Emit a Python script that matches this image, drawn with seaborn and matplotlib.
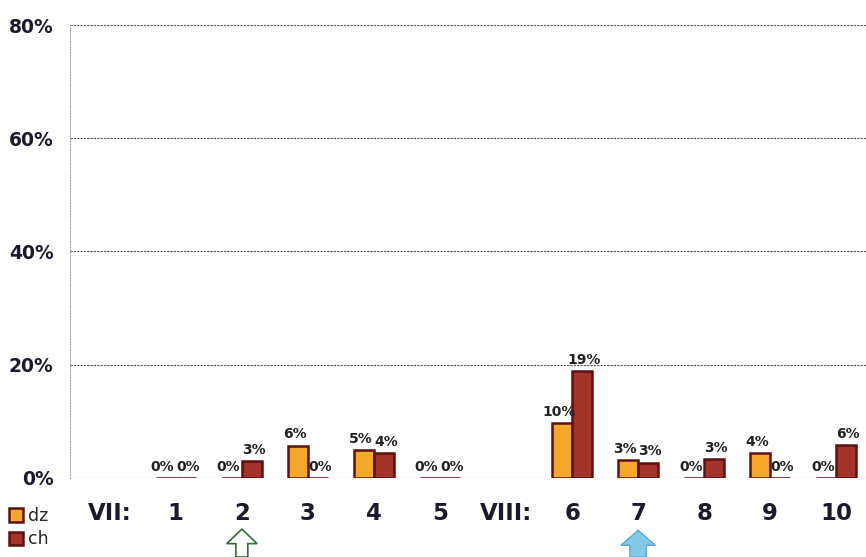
import numpy as np
import pandas as pd
import matplotlib
matplotlib.use('Agg')
import matplotlib.pyplot as plt
import matplotlib.transforms as mtransforms
from matplotlib.patches import FancyArrow
import seaborn as sns

# categories along x (month markers are empty slots)
CATS = ['VII:', '1', '2', '3', '4', '5', 'VIII:', '6', '7', '8', '9', '10']
DZ = [np.nan, 0, 0, 5.7, 4.9, 0, np.nan, 9.7, 3.2, 0, 4.4, 0]
CH = [np.nan, 0, 3.0, 0, 4.4, 0, np.nan, 18.9, 2.7, 3.3, 0, 5.8]
SERIES = ['dz', 'ch']
Y_TICKS = [0, 20, 40, 60, 80]

COLORS = {'dz': '#F4A82A', 'ch': '#A53329'}
EDGE = '#5A1212'

df = pd.DataFrame({
    'cat': CATS * 2,
    'series': ['dz'] * len(CATS) + ['ch'] * len(CATS),
    'value': DZ + CH,
})

sns.set_style('white')
plt.rcParams['font.family'] = ['DejaVu Sans']

fig = plt.figure(figsize=(8.66, 5.57), dpi=100)
ax = fig.add_axes([0.081, 0.142, 0.919, 0.813])

sns.barplot(data=df, x='cat', y='value', hue='series', order=CATS,
            hue_order=SERIES, palette=COLORS, saturation=1, width=0.6,
            ax=ax, edgecolor=EDGE, linewidth=1.8, errorbar=None, zorder=3)

# percent labels above the bars, nudged apart a little
for cont, dx in zip(ax.containers, [-2.5, 1.5]):
    labs = []
    for b in cont:
        h = b.get_height()
        labs.append('' if np.isnan(h) else f'{h:.0f}%')
    texts = ax.bar_label(cont, labels=labs, padding=3, fontsize=10,
                         fontweight='bold', color='#222222')
    for t in texts:
        t.xyann = (dx, 3)

ax.set_xlim(-0.6, 11.45)
ax.set_ylim(0, 80)
ax.set_yticks(Y_TICKS)
ax.set_yticklabels([f'{v}%' for v in Y_TICKS], fontsize=13.5,
                   fontweight='bold', color='#1a1a2a')
ax.tick_params(axis='y', length=0, pad=12)
ax.tick_params(axis='x', which='major', length=0, pad=17,
               labelsize=16.5)
for t in ax.get_xticklabels():
    t.set_fontweight('bold')
    t.set_color('#1a1a2a')
ax.set_xticks(np.arange(-0.5, 11.5, 1), minor=True)
ax.tick_params(axis='x', which='minor', length=7, width=0.8,
               color='#777777', direction='out')
ax.set_xlabel('')
ax.set_ylabel('')

ax.yaxis.grid(True, linestyle=(0, (2, 1)), color='#555555', lw=0.8, zorder=0)
ax.set_axisbelow(True)
for s in ['top', 'right', 'bottom']:
    ax.spines[s].set_visible(False)
ax.spines['left'].set_linestyle((0, (1, 1.5)))
ax.spines['left'].set_color('#aaaaaa')
ax.spines['left'].set_linewidth(0.8)

# legend bottom left
handles, labels = ax.get_legend_handles_labels()
ax.legend(handles, labels, loc='lower left', bbox_to_anchor=(0.0, 0.0),
          bbox_transform=fig.transFigure, frameon=False, fontsize=12.5,
          handlelength=0.8, handleheight=0.8, handletextpad=0.3,
          labelspacing=0.3, borderaxespad=0.3, borderpad=0.2)

# arrows under the axis
trans = mtransforms.blended_transform_factory(ax.transData, fig.transFigure)
a1 = FancyArrow(2, 0.0, 0, 0.05, width=0.18, head_width=0.46,
                head_length=0.026, length_includes_head=True,
                transform=trans, facecolor='white', edgecolor='#2E6B3A',
                lw=1.2, clip_on=False)
a2 = FancyArrow(8, 0.0, 0, 0.048, width=0.25, head_width=0.52,
                head_length=0.027, length_includes_head=True,
                transform=trans, facecolor='#86C9E6', edgecolor='#5AA8D0',
                lw=1.0, clip_on=False)
fig.add_artist(a1)
fig.add_artist(a2)

fig.savefig('out.png', dpi=100)
